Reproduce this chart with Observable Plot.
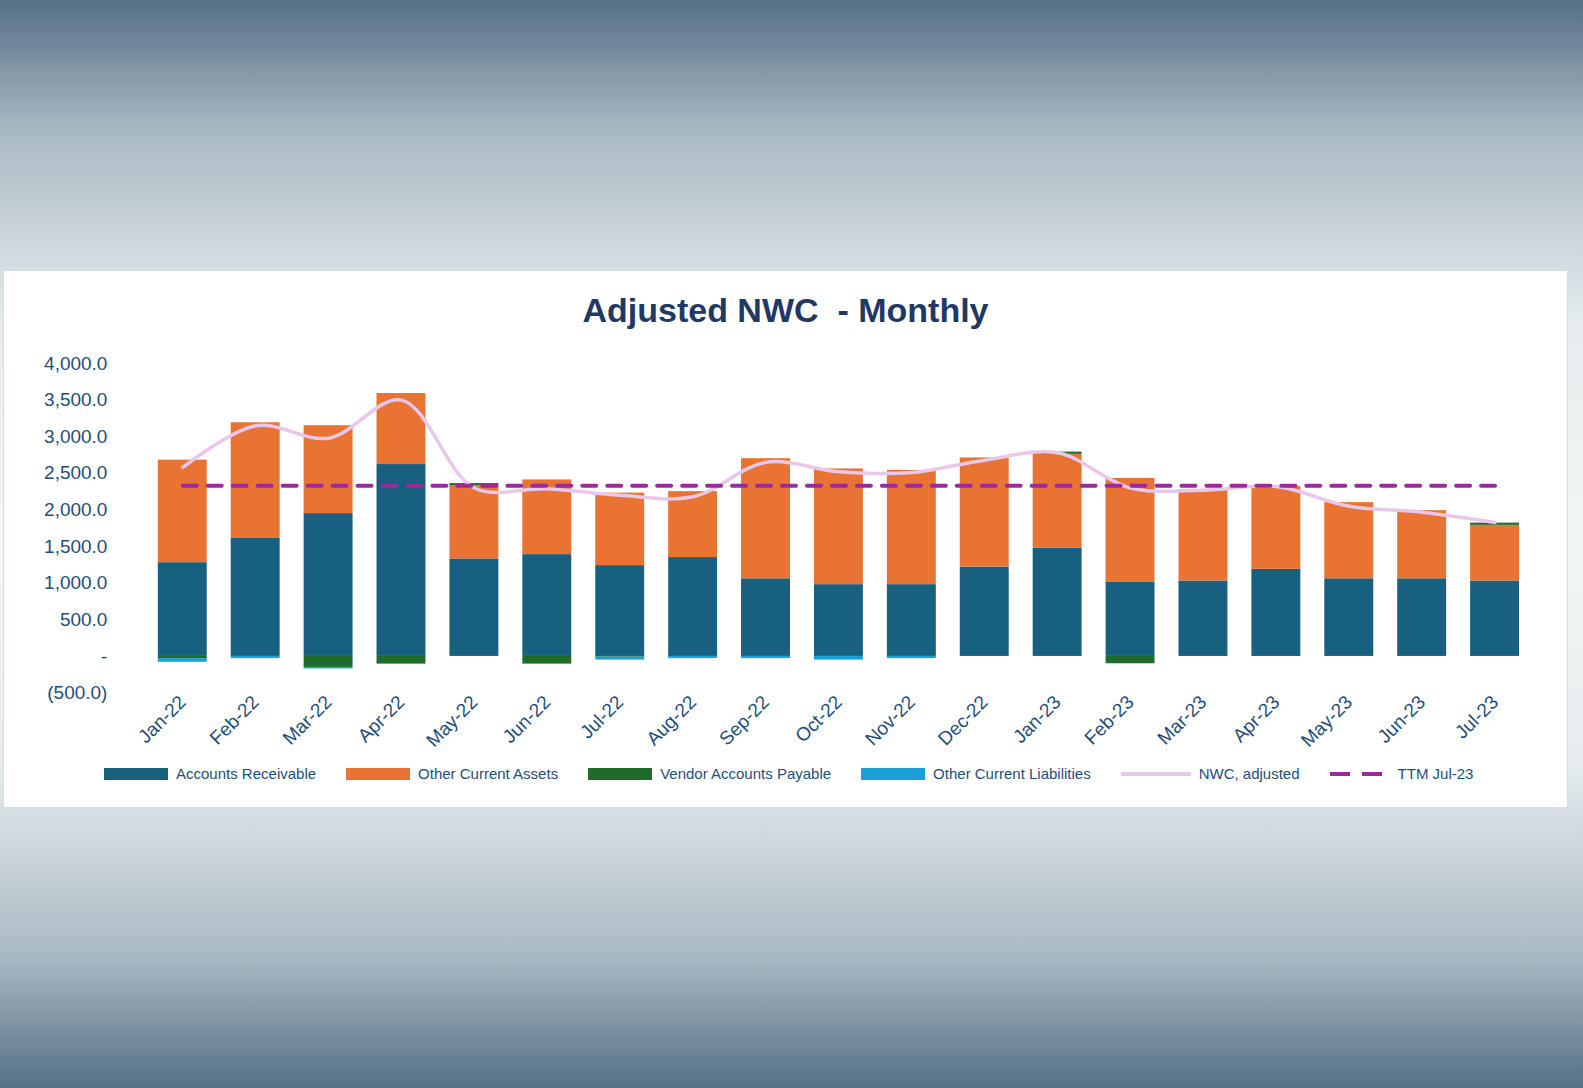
<!DOCTYPE html>
<html><head><meta charset="utf-8">
<script src="https://cdn.jsdelivr.net/npm/d3@7"></script>
<script src="https://cdn.jsdelivr.net/npm/@observablehq/plot@0.6"></script>
<style>
html,body{margin:0;padding:0;width:1583px;height:1088px;overflow:hidden;font-family:Arial,"Liberation Sans",sans-serif;}
body{background:linear-gradient(to bottom,#566f86 0%,#a9b9c3 12%,#e6ecee 30%,#f3f6f6 50%,#e6ecee 70%,#a9b9c3 88%,#566f86 100%);}
#panel{position:absolute;left:3px;top:270px;width:1565px;height:538px;background:#fff;border:1px solid #d8dcdf;box-sizing:border-box;}
#title{position:absolute;top:20px;left:0;width:100%;text-align:center;font-size:34px;font-weight:bold;color:#1f3864;}
#chart{position:absolute;top:70px;left:0;}
#legend{position:absolute;top:494px;left:100px;display:flex;gap:30px;font-size:15px;color:#1f4e79;align-items:center;}
.it{display:flex;align-items:center;gap:8px;}
.sw{width:64px;height:12px;}
</style></head><body>
<div id="panel"><div id="title">Adjusted NWC&nbsp; - Monthly</div><div id="chart"></div><div id="legend"></div></div>
<script>
const months=["Jan-22","Feb-22","Mar-22","Apr-22","May-22","Jun-22","Jul-22","Aug-22","Sep-22","Oct-22","Nov-22","Dec-22","Jan-23","Feb-23","Mar-23","Apr-23","May-23","Jun-23","Jul-23"];
const ar=[1280,1610,1950,2620,1330,1390,1240,1350,1060,980,980,1220,1480,1010,1030,1190,1060,1060,1030];
const oca=[1400,1580,1200,970,1000,1020,990,900,1640,1580,1560,1490,1280,1420,1250,1130,1040,930,760];
const vap=[-30,0,-150,-100,30,-100,-10,0,0,0,0,0,30,-100,0,0,0,0,30];
const ocl=[-50,-30,-20,-10,0,-10,-40,-30,-30,-50,-30,0,0,0,0,0,0,0,0];
const nwc=[2580,3150,2980,3500,2300,2290,2200,2180,2650,2520,2510,2680,2780,2300,2270,2320,2050,1970,1830];
const ttm=2330;
const series=["Accounts Receivable","Other Current Assets","Vendor Accounts Payable","Other Current Liabilities"];
const colors=["#17607f","#e87333","#1e6b2a","#1a9fd6"];
const vals=[ar,oca,vap,ocl];
const rows=[];
series.forEach((s,i)=>months.forEach((m,j)=>rows.push({m,s,v:vals[i][j]})));
const line=months.map((m,j)=>({m,v:nwc[j]}));
const ttmRows=months.map(m=>({m,v:ttm}));
const fmt=d=>d===0?"-":(d<0?"("+d3.format(",.1f")(-d)+")":d3.format(",.1f")(d));
const p=Plot.plot({
 width:1565,height:412,marginTop:22,marginBottom:60,marginLeft:125,marginRight:20,
 style:{fontFamily:"Arial, Liberation Sans, sans-serif",color:"#1f4e79",background:"transparent"},
 x:{domain:months,padding:0.33,label:null,tickRotate:-45,tickSize:0,tickPadding:6},
 y:{domain:[-500,4000],ticks:d3.range(-500,4001,500),tickFormat:fmt,label:null,tickSize:0,tickPadding:22},
 color:{domain:series,range:colors},
 marks:[
  Plot.gridY(d3.range(-500,4001,500),{stroke:"#d9d9d9",strokeOpacity:1,x1:125,x2:1545}),
  Plot.barY(rows,{x:"m",y:"v",fill:"s",order:series}),
  Plot.line(line,{x:"m",y:"v",stroke:"#ebc6eb",strokeWidth:3.5,curve:"catmull-rom"}),
  Plot.line(ttmRows,{x:"m",y:"v",stroke:"#9b2a9b",strokeWidth:4,strokeDasharray:"14,11"})
 ]
});
p.querySelectorAll("g[aria-label='y-axis tick label'] text, g[aria-label='x-axis tick label'] text").forEach(t=>t.style.fontSize="19px");
document.getElementById("chart").appendChild(p);
const lg=document.getElementById("legend");
series.forEach((s,i)=>lg.insertAdjacentHTML("beforeend",`<div class="it"><div class="sw" style="background:${colors[i]}"></div>${s}</div>`));
lg.insertAdjacentHTML("beforeend",`<div class="it"><svg width="70" height="12"><line x1="0" x2="70" y1="6" y2="6" stroke="#ebc6eb" stroke-width="4"/></svg>NWC, adjusted</div>`);
lg.insertAdjacentHTML("beforeend",`<div class="it"><svg width="60" height="12"><line x1="0" x2="60" y1="6" y2="6" stroke="#9b2a9b" stroke-width="4" stroke-dasharray="20,12"/></svg>TTM Jul-23</div>`);
</script></body></html>
